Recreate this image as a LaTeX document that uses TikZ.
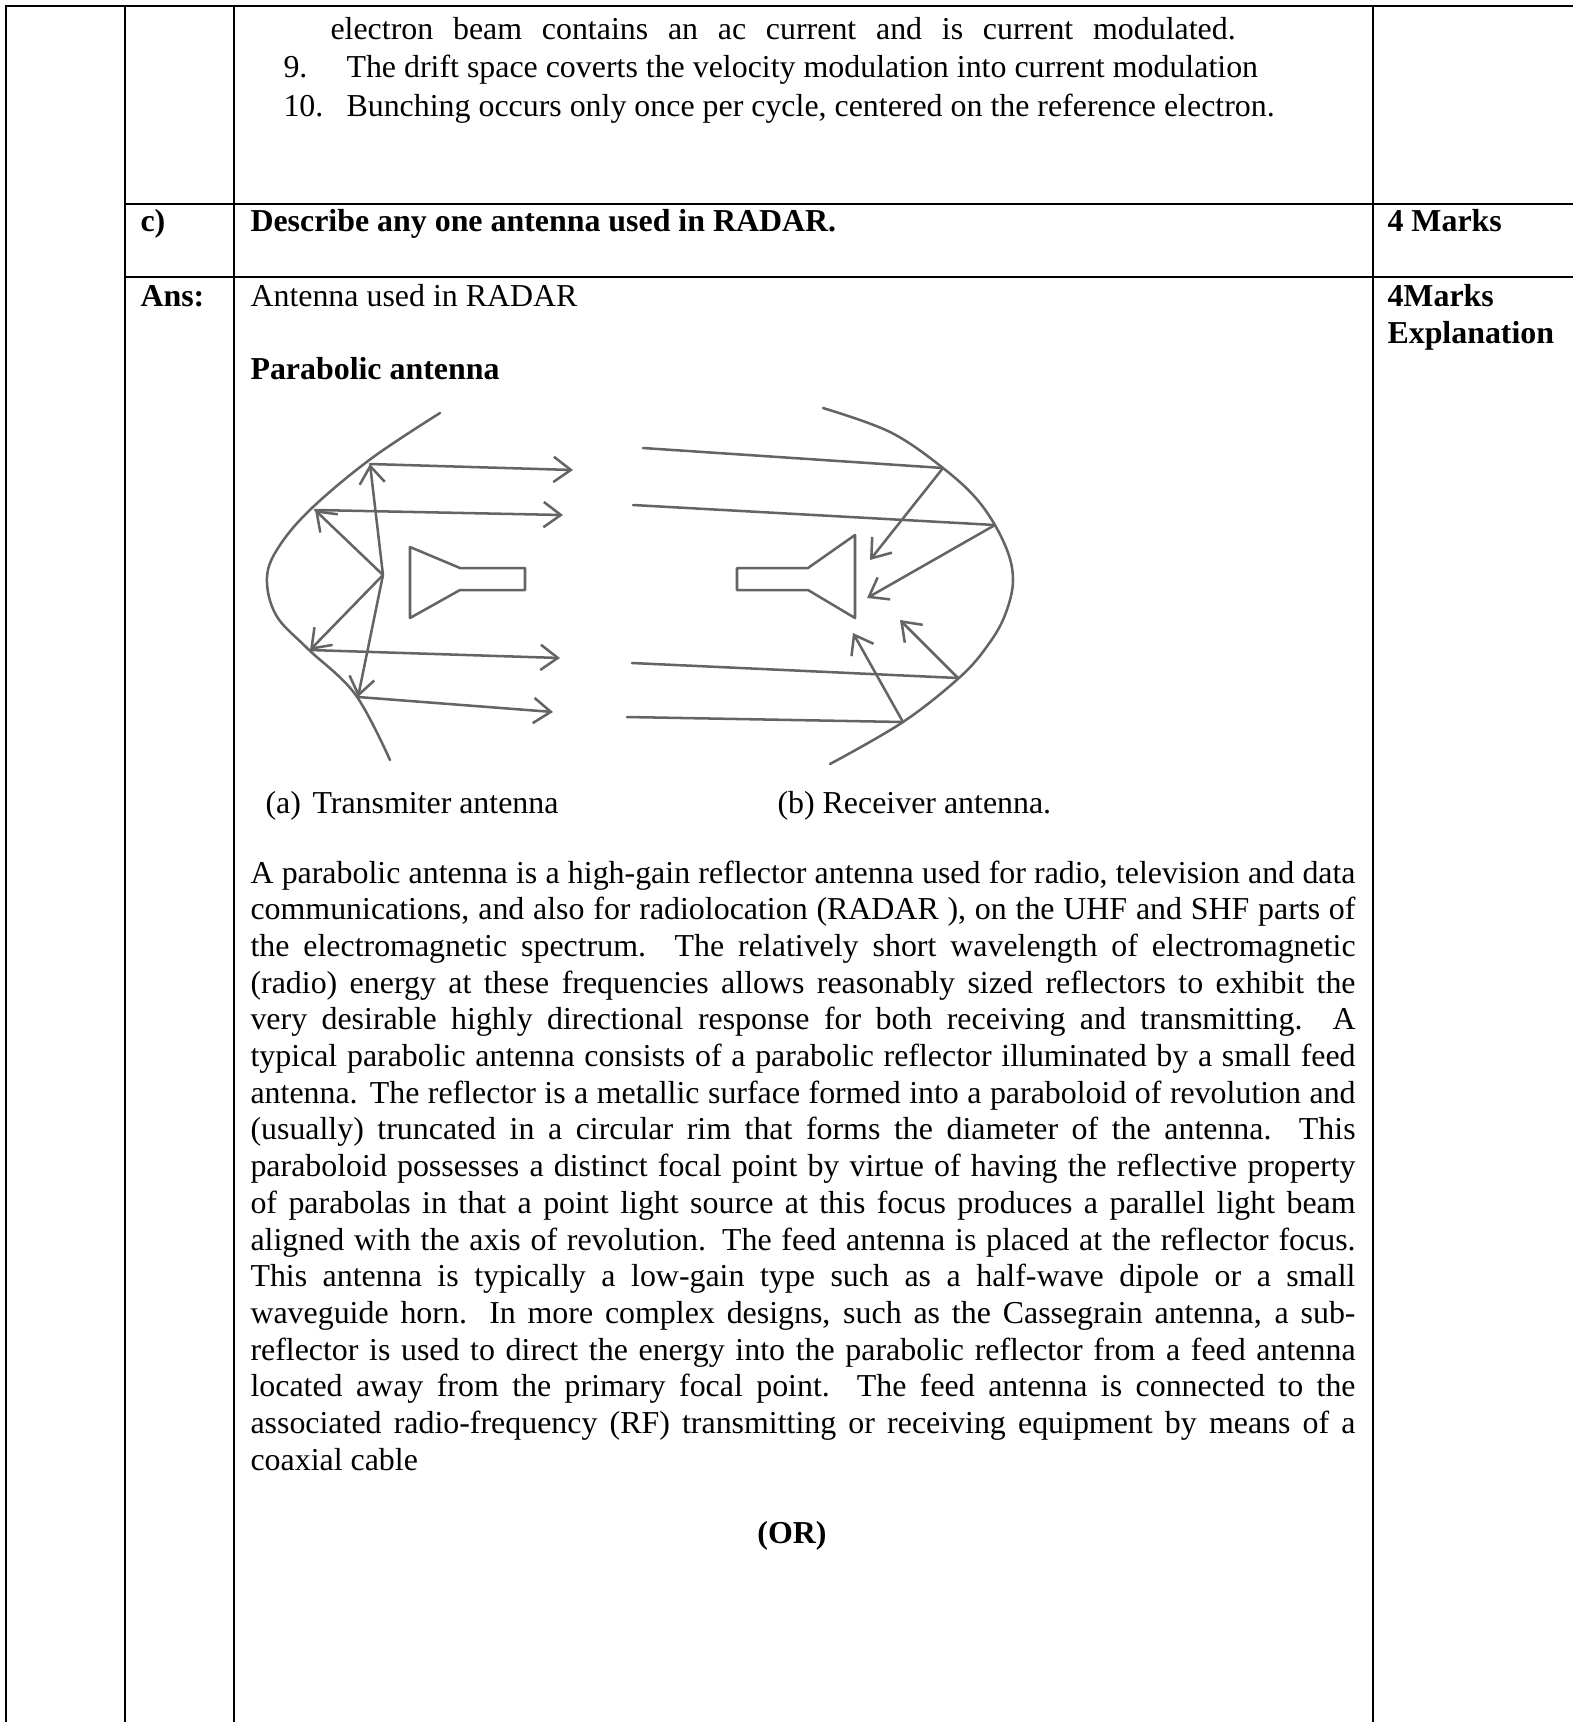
\documentclass[tikz,border=0pt]{standalone}
\usepackage{fontspec}
\setmainfont{Liberation Serif}
\usetikzlibrary{arrows.meta}
\newlength{\bodyw}
\setlength{\bodyw}{415.7pt}
\newlength{\firstw}
\setlength{\firstw}{340.5pt}
\begin{document}
\begin{tikzpicture}[x=0.3762pt,y=-0.3762pt,
  rule/.style={line width=1.1pt, line cap=rect},
  txt/.style={anchor=base west, inner sep=0pt, font=\fontsize{12}{13.8}\selectfont},
  btxt/.style={anchor=base west, inner sep=0pt, font=\fontsize{12}{13.8}\selectfont\bfseries},
  pencil/.style={draw={rgb,255:red,100;green,100;blue,100}, line width=0.95pt, line cap=round, line join=round},
  ray/.style={pencil, -{Straight Barb[length=6.5pt,width=9.5pt,line width=0.95pt]}},
]
\useasboundingbox (0,0) rectangle (1572,1722);
% ---------------- table rules
\draw[rule] (6,1722) -- (6,6) -- (1572,6);
\draw[rule] (125,6) -- (125,1722);
\draw[rule] (234,6) -- (234,1722);
\draw[rule] (1373,6) -- (1373,1722);
\draw[rule] (125,204) -- (1572,204);
\draw[rule] (125,277) -- (1572,277);
% ---------------- row 1
\node[txt] (l8)  at (330,39) {\makebox[\firstw][s]{electron beam contains an ac current and is current modulated.}};
\node[txt] (n9)  at (283,77.5) {9.};
\node[txt] (l9)  at (346,77.5) {The drift space coverts the velocity modulation into current modulation};
\node[txt] (n10) at (283,116) {10.};
\node[txt] (l10) at (346,116) {Bunching occurs only once per cycle, centered on the reference electron.};
% ---------------- row 2
\node[btxt] (qc) at (140,231) {c)};
\node[btxt] (qt) at (250,231) {Describe any one antenna used in RADAR.};
\node[btxt] (qm) at (1387,231) {4 Marks};
% ---------------- row 3
\node[btxt] (ans) at (140,306) {Ans:};
\node[txt] (a1) at (250,306) {Antenna used in RADAR};
\node[btxt] (m1) at (1387,306) {4Marks};
\node[btxt] (m2) at (1387,343) {Explanation};
\node[btxt] (pa) at (250,379) {Parabolic antenna};
% ---------------- sketch: transmitter
\draw[pencil] plot[smooth, tension=0.6] coordinates {(440,413) (372,458) (313,507) (280,545) (267,577) (276,615) (307,648) (355,694) (390,760)};
\coordinate (F) at (383,575);
\coordinate (t1a) at (370,464); \coordinate (t1b) at (573,470);
\coordinate (t2a) at (315,510); \coordinate (t2b) at (563,515);
\coordinate (t3a) at (310,650); \coordinate (t3b) at (560,658);
\coordinate (t4a) at (358,697); \coordinate (t4b) at (553,712);
\draw[ray] (t1a) -- (t1b);
\draw[ray] (t2a) -- (t2b);
\draw[ray] (t3a) -- (t3b);
\draw[ray] (t4a) -- (t4b);
\draw[ray] (F) -- (t1a);
\draw[ray] (F) -- (t2a);
\draw[ray] (F) -- (t3a);
\draw[ray] (F) -- (t4a);
\draw[pencil] (410,547) -- (410,618) -- (460,590) -- (525,590) -- (525,568) -- (460,568) -- cycle;
% ---------------- sketch: receiver
\draw[pencil] plot[smooth, tension=0.6] coordinates {(823,408) (890,432) (943,468) (980,503) (1005,545) (1013,580) (1005,615) (988,645) (960,677) (903,722) (830,764)};
\coordinate (r1a) at (643,448); \coordinate (r1b) at (943,468);
\coordinate (r2a) at (633,505); \coordinate (r2b) at (995,525);
\coordinate (r3a) at (632,663); \coordinate (r3b) at (958,678);
\coordinate (r4a) at (627,717); \coordinate (r4b) at (903,722);
\coordinate (h1) at (870,560);
\coordinate (h2) at (867,598);
\coordinate (h3) at (900,620);
\coordinate (h4) at (853,633);
\draw[pencil] (r1a) -- (r1b);
\draw[pencil] (r2a) -- (r2b);
\draw[pencil] (r3a) -- (r3b);
\draw[pencil] (r4a) -- (r4b);
\draw[ray] (r1b) -- (h1);
\draw[ray] (r2b) -- (h2);
\draw[ray] (r3b) -- (h3);
\draw[ray] (r4b) -- (h4);
\draw[pencil] (855,535) -- (855,618) -- (808,590) -- (737,590) -- (737,568) -- (808,568) -- cycle;
% ---------------- captions
\node[txt] (capa) at (265,813) {(a)};
\node[txt] (capa2) at (312,813) {Transmiter antenna};
\node[txt] (capb) at (777,813) {(b) Receiver antenna.};
% ---------------- paragraph
\node[txt] (p1)  at (250,883)    {\makebox[\bodyw][s]{A parabolic antenna is a high-gain reflector antenna used for radio, television and data}};
\node[txt] (p2)  at (250,919.7)  {\makebox[\bodyw][s]{communications, and also for radiolocation (RADAR ), on the UHF and SHF parts of}};
\node[txt] (p3)  at (250,956.4)  {\makebox[\bodyw][s]{the electromagnetic spectrum. The relatively short wavelength of electromagnetic}};
\node[txt] (p4)  at (250,993.1)  {\makebox[\bodyw][s]{(radio) energy at these frequencies allows reasonably sized reflectors to exhibit the}};
\node[txt] (p5)  at (250,1029.8) {\makebox[\bodyw][s]{very desirable highly directional response for both receiving and transmitting. A}};
\node[txt] (p6)  at (250,1066.5) {\makebox[\bodyw][s]{typical parabolic antenna consists of a parabolic reflector illuminated by a small feed}};
\node[txt] (p7)  at (250,1103.2) {\makebox[\bodyw][s]{antenna. The reflector is a metallic surface formed into a paraboloid of revolution and}};
\node[txt] (p8)  at (250,1139.9) {\makebox[\bodyw][s]{(usually) truncated in a circular rim that forms the diameter of the antenna. This}};
\node[txt] (p9)  at (250,1176.6) {\makebox[\bodyw][s]{paraboloid possesses a distinct focal point by virtue of having the reflective property}};
\node[txt] (p10) at (250,1213.3) {\makebox[\bodyw][s]{of parabolas in that a point light source at this focus produces a parallel light beam}};
\node[txt] (p11) at (250,1250.0) {\makebox[\bodyw][s]{aligned with the axis of revolution. The feed antenna is placed at the reflector focus.}};
\node[txt] (p12) at (250,1286.7) {\makebox[\bodyw][s]{This antenna is typically a low-gain type such as a half-wave dipole or a small}};
\node[txt] (p13) at (250,1323.4) {\makebox[\bodyw][s]{waveguide horn. In more complex designs, such as the Cassegrain antenna, a sub-}};
\node[txt] (p14) at (250,1360.1) {\makebox[\bodyw][s]{reflector is used to direct the energy into the parabolic reflector from a feed antenna}};
\node[txt] (p15) at (250,1396.8) {\makebox[\bodyw][s]{located away from the primary focal point. The feed antenna is connected to the}};
\node[txt] (p16) at (250,1433.5) {\makebox[\bodyw][s]{associated radio-frequency (RF) transmitting or receiving equipment by means of a}};
\node[txt] (p17) at (250,1470.2) {coaxial cable};
\node[btxt, anchor=base] (or) at (792,1543) {(OR)};
\end{tikzpicture}
\end{document}
